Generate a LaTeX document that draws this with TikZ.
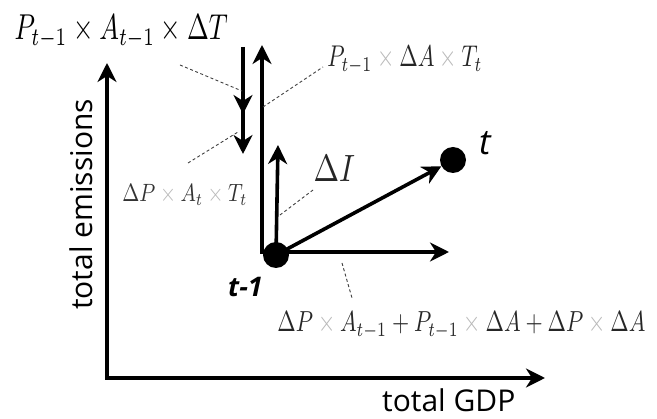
\documentclass[tikz,border=0pt]{standalone}
\usepackage{fontspec}
\setsansfont{Open Sans}
\usetikzlibrary{arrows.meta}
\newcommand\gx{\mathbin{\textcolor{gray!55}{\times}}}
\tikzset{
  thick line/.style={line width=3.6pt},
  head/.style={-{Stealth[length=19pt,width=19pt,inset=6pt]}},
  leader/.style={draw=black!75,line width=0.9pt,dash pattern=on 3pt off 2.5pt},
  dot/.style={circle,fill=black,inner sep=0pt,minimum size=26pt},
  lbl/.style={inner sep=0pt,anchor=base west},
  sanslbl/.style={lbl,font=\sffamily\fontsize{30}{30}\selectfont},
}
\begin{document}
\begin{tikzpicture}[x=1pt,y=-1pt]
\useasboundingbox (0,0) rectangle (657,419);
% axes
\coordinate (O) at (107,378);
\coordinate (Ytop) at (107,63);
\coordinate (Xend) at (545,378);
\draw[thick line,head] ([yshift=-1.8pt]O) -- (Ytop);
\draw[thick line,head] ([xshift=-1.8pt]O) -- (Xend);
% dots
\node[dot] (d1) at (276,255) {};
\node[dot] (d2) at (453,160) {};
% L-shaped arrows from t-1
\coordinate (C) at (262,252);
\coordinate (Vtop) at (262,45);
\coordinate (Hend) at (449,252);
\draw[thick line,head] ([yshift=1.8pt]C) -- (Vtop);
\draw[thick line,head] ([xshift=-1.8pt]C) -- (Hend);
% downward arrow with two heads
\coordinate (Dtop) at (243,47);
\coordinate (Dmid) at (243,114);
\coordinate (Dmid2) at (243,105);
\coordinate (Dbot) at (243,154);
\draw[thick line,head] (Dtop) -- (Dmid);
\draw[thick line,head] (Dmid2) -- (Dbot);
% Delta I arrow
\coordinate (Itop) at (278,145);
\draw[thick line,head] (d1.center) -- (Itop);
% arrow to t
\draw[thick line,head] (d1.center) -- (d2);
% labels
\node[lbl,xscale=2.62,yscale=3.6] (f1) at (14,40) {$P_{t-1}\times A_{t-1}\times\Delta T$};
\node[lbl,xscale=2.22,yscale=3.0,text=black!85] (f2) at (327,67) {$P_{t-1}\gx\Delta A\gx T_t$};
\node[lbl,xscale=2.05,yscale=2.5,text=black!80] (f3) at (122,202) {$\Delta P\gx A_t\gx T_t$};
\node[lbl,xscale=3.07,yscale=3.8,text=black!85] (f4) at (313,182) {$\Delta I$};
\node[lbl,xscale=2.21,yscale=2.9,text=black!85] (f5) at (277,332) {$\Delta P\gx A_{t-1}+P_{t-1}\gx\Delta A+\Delta P\gx\Delta A$};
\node[sanslbl,font=\sffamily\itshape\fontsize{35}{35}\selectfont] (lt) at (479,155) {t};
\node[sanslbl,font=\sffamily\bfseries\itshape\fontsize{27}{27}\selectfont] (lt1) at (228,297) {t-1};
\node[sanslbl] (gdp) at (382,412) {total GDP};
\node[sanslbl,rotate=90] (em) at (92,310) {total emissions};
% leaders
\coordinate (a1) at (180,65); \coordinate (b1) at (242,91);
\coordinate (a2) at (263,107); \coordinate (b2) at (323,67);
\coordinate (a3) at (188,163); \coordinate (b3) at (238,132);
\coordinate (a4) at (280,215); \coordinate (b4) at (313,190);
\coordinate (a5) at (342,263); \coordinate (b5) at (352,298);
\draw[leader] (a1) -- (b1);
\draw[leader] (a2) -- (b2);
\draw[leader] (a3) -- (b3);
\draw[leader] (a4) -- (b4);
\draw[leader] (a5) -- (b5);
\end{tikzpicture}
\end{document}
